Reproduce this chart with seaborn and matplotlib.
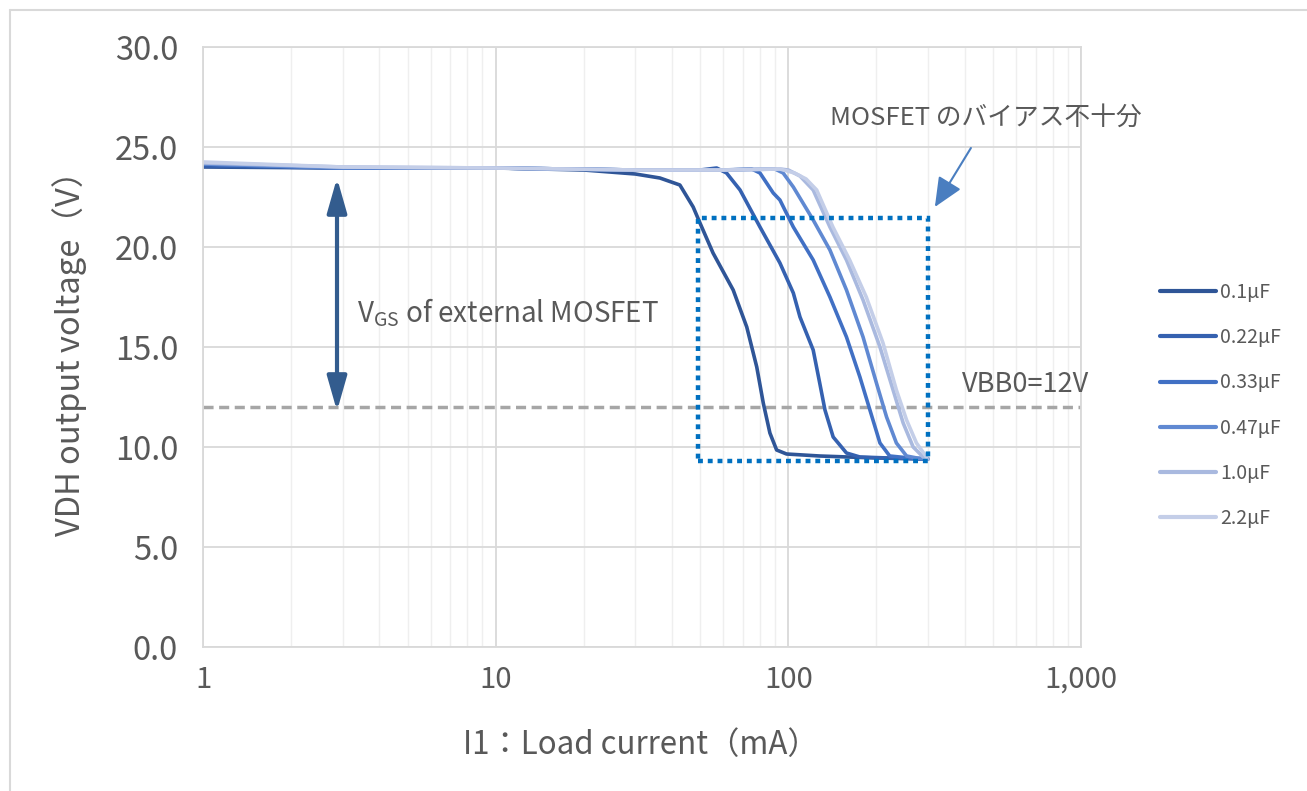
import numpy as np
import pandas as pd
import matplotlib
matplotlib.use("Agg")
import matplotlib.pyplot as plt
import seaborn as sns
from matplotlib.patches import Rectangle
from matplotlib.lines import Line2D
from matplotlib.ticker import LogLocator, NullFormatter

# ---------------- data ----------------
series_labels = ["0.1µF", "0.22µF", "0.33µF", "0.47µF", "1.0µF", "2.2µF"]

i_01 = [1, 3, 10, 20, 30, 36.4, 42.6, 47.3, 49.9, 55.3, 64.8, 72.1, 78.0, 82.1, 86.5, 91.2, 98.6, 128, 200, 300]
v_01 = [24.0, 23.95, 23.95, 23.85, 23.65, 23.45, 23.1, 22.0, 21.2, 19.7, 17.85, 16.0, 14.0, 12.2, 10.7, 9.85, 9.65, 9.55, 9.45, 9.4]

i_022 = [1, 3, 10, 30, 50, 56.9, 61.5, 68.4, 80, 93.6, 104, 109.6, 121.6, 128, 133.4, 142.3, 158, 175.6, 220, 300]
v_022 = [24.05, 23.95, 23.95, 23.85, 23.85, 23.95, 23.7, 22.85, 21.0, 19.2, 17.7, 16.5, 14.85, 13.2, 11.85, 10.5, 9.7, 9.5, 9.45, 9.4]

i_033 = [1, 3, 10, 30, 60, 75, 80, 88.8, 93.6, 104, 121.6, 138.7, 158, 175.6, 190, 205.6, 222, 260, 300]
v_033 = [24.15, 23.95, 23.95, 23.85, 23.85, 23.9, 23.7, 22.7, 22.35, 21.0, 19.35, 17.5, 15.5, 13.5, 11.85, 10.2, 9.55, 9.45, 9.4]

i_047 = [1, 3, 10, 30, 60, 90, 96, 104, 121.6, 138.7, 158, 180, 200, 216.6, 234, 253.5, 275, 300]
v_047 = [24.15, 23.95, 23.95, 23.85, 23.85, 23.9, 23.7, 23.0, 21.35, 19.85, 17.85, 15.5, 13.2, 11.5, 10.2, 9.55, 9.45, 9.4]

i_10 = [1, 3, 10, 30, 60, 93.6, 100, 109.6, 121.6, 138.7, 158, 180, 205.6, 228, 246.8, 267, 289, 300]
v_10 = [24.2, 24.0, 23.95, 23.85, 23.85, 23.9, 23.85, 23.55, 22.85, 21.0, 19.35, 17.35, 15.0, 12.85, 11.2, 10.0, 9.5, 9.4]

i_22 = [1, 3, 10, 30, 60, 93.6, 105, 115, 125, 142, 162, 184.6, 210.6, 234, 253.5, 274, 296.5]
v_22 = [24.25, 24.0, 23.95, 23.85, 23.85, 23.9, 23.7, 23.4, 22.85, 21.0, 19.35, 17.5, 15.2, 12.85, 11.35, 10.2, 9.5]

currents = [i_01, i_022, i_033, i_047, i_10, i_22]
voltages = [v_01, v_022, v_033, v_047, v_10, v_22]

x_ticks = [1, 10, 100, 1000]
x_tick_labels = ["1", "10", "100", "1,000"]
y_ticks = [0, 5, 10, 15, 20, 25, 30]
y_tick_labels = ["0.0", "5.0", "10.0", "15.0", "20.0", "25.0", "30.0"]
vbb0 = 12.0

# ---------------- style ----------------
sns.set_theme(style="white")
plt.rcParams["font.family"] = ["Noto Sans CJK JP", "DejaVu Sans"]
plt.rcParams["mathtext.fontset"] = "custom"
plt.rcParams["mathtext.rm"] = "Noto Sans CJK JP"
plt.rcParams["axes.unicode_minus"] = False

text_color = "#595959"
palette = ["#2F5597", "#3561B0", "#4170C4", "#6089D2", "#A9B9DF", "#C4CEE8"]

W, H = 1307, 791
fig = plt.figure(figsize=(W / 100, H / 100), dpi=100)
ax = fig.add_axes([203 / W, 144 / H, 878 / W, 600 / H])

rows = []
for lab, xs, ys in zip(series_labels, currents, voltages):
    for x, y in zip(xs, ys):
        rows.append({"cap": lab, "current": x, "voltage": y})
df = pd.DataFrame(rows)

sns.lineplot(data=df, x="current", y="voltage", hue="cap", hue_order=series_labels,
             palette=palette, estimator=None, sort=False, linewidth=2.6, ax=ax)

ax.set_xscale("log")
ax.set_xlim(1, 1000)
ax.set_ylim(0, 30)
ax.set_xticks(x_ticks)
ax.set_xticklabels(x_tick_labels)
ax.xaxis.set_minor_locator(LogLocator(base=10, subs=np.arange(2, 10)))
ax.xaxis.set_minor_formatter(NullFormatter())
ax.set_yticks(y_ticks)
ax.set_yticklabels(y_tick_labels)
ax.tick_params(which="both", length=0)
ax.tick_params(axis="y", labelsize=23.5, colors=text_color, pad=18)
ax.tick_params(axis="x", labelsize=21, colors=text_color, pad=13)
ax.set_xlabel("")
ax.set_ylabel("")

ax.grid(which="major", color="#D9D9D9", lw=1.3)
ax.grid(which="minor", axis="x", color="#EFEFEF", lw=1.0)
ax.set_axisbelow(True)
for s in ax.spines.values():
    s.set_color("#D9D9D9")
    s.set_linewidth(1.3)

# VBB0 dashed line
ax.axhline(vbb0, color="#A6A6A6", lw=2.5, ls=(0, (2.9, 1.6)), zorder=1.5)

# dotted box
ax.add_patch(Rectangle((49, 9.3), 251, 12.15, fill=False, edgecolor="#0070C0",
                       lw=3.2, ls=(0, (1.1, 1.1)), zorder=4))

# VGS double arrow
ax.annotate("", xy=(2.87, 11.8), xytext=(2.87, 23.45),
            arrowprops=dict(arrowstyle="<|-|>,head_length=0.7,head_width=0.2",
                            color="#335C8E", lw=3, mutation_scale=30,
                            shrinkA=0, shrinkB=0), zorder=5)

# MOSFET annotation arrow
ax.annotate("", xy=(316.7, 22.0), xytext=(420.6, 24.95),
            arrowprops=dict(arrowstyle="-|>,head_length=0.9,head_width=0.4",
                            color="#4A7EC0", lw=1.5, mutation_scale=20,
                            shrinkA=0, shrinkB=0), annotation_clip=False, zorder=5)

ax.text(3.36, 16.7, r"V$_\mathrm{GS}$ of external MOSFET", fontsize=20,
        color=text_color, ha="left", va="center")
ax.text(138.7, 26.45, "MOSFET のバイアス不十分", fontsize=18.5,
        color=text_color, ha="left", va="center")
ax.text(391.7, 13.1, "VBB0=12V", fontsize=19.5, color=text_color,
        ha="left", va="center")

# axis labels
fig.text(70 / W, 1 - 345 / H, "VDH output voltage（V）", rotation=90,
         fontsize=23.5, color=text_color, ha="center", va="center")
fig.text(641 / W, 1 - 745 / H, "I1：Load current（mA）",
         fontsize=22.5, color=text_color, ha="center", va="center")

# legend
handles, labels = ax.get_legend_handles_labels()
leg = ax.get_legend()
if leg is not None:
    leg.remove()
for h in handles:
    h.set_linewidth(3.0)
fig.legend(handles, labels, loc="center left", bbox_to_anchor=(1160 / W, 1 - 405.5 / H),
           frameon=False, fontsize=14, labelcolor=text_color, handlelength=2.9,
           handletextpad=0.2, labelspacing=1.25, borderpad=0, borderaxespad=0)

# chart-area border
fig.add_artist(Line2D([10 / W, 10 / W], [0, 1 - 10 / H], transform=fig.transFigure,
                      color="#D9D9D9", lw=1.5))
fig.add_artist(Line2D([10 / W, 1], [1 - 10 / H, 1 - 10 / H], transform=fig.transFigure,
                      color="#D9D9D9", lw=1.5))

fig.savefig("out.png", dpi=100)
